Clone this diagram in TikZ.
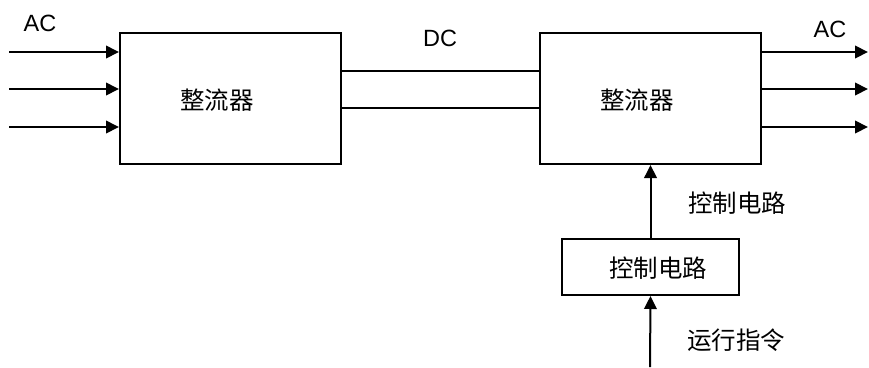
\documentclass[tikz,border=0pt]{standalone}
\usepackage{fontspec}
\setmainfont{Liberation Sans}
\newfontfamily\cjk{Noto Sans CJK SC}
\usetikzlibrary{arrows.meta}
\begin{document}
\begin{tikzpicture}[x=1pt,y=-1pt,line width=2pt,
  box/.style={draw,rectangle,inner sep=0pt},
  lab/.style={inner sep=0pt,font=\fontsize{23.5}{27}\selectfont},
  cn/.style={inner sep=0pt,font=\cjk\fontsize{24.5}{28}\selectfont},
  arr/.style={-{Triangle[length=13pt,width=12.5pt]}}]
\useasboundingbox (0,0) rectangle (869,367);
\fill[white] (0,0) rectangle (869,367);
% boxes
\node[box,minimum width=221pt,minimum height=131pt] (L) at (230.5,98.5) {};
\node[box,minimum width=221pt,minimum height=131pt] (R) at (650.5,98.5) {};
\node[box,minimum width=177pt,minimum height=56pt] (C) at (650.5,267) {};
% box texts
\node[cn] (Lt) at (217,100) {整流器};
\node[cn] (Rt) at (637,100) {整流器};
\node[cn] (Ct) at (658,268) {控制电路};
% inputs
\coordinate (i1) at (9,52);
\coordinate (i2) at (9,89);
\coordinate (i3) at (9,127);
\draw[arr] (i1) -- (i1 -| L.west);
\draw[arr] (i2) -- (i2 -| L.west);
\draw[arr] (i3) -- (i3 -| L.west);
% outputs
\coordinate (o1) at (868,52);
\coordinate (o2) at (868,89);
\coordinate (o3) at (868,127);
\draw[arr] (o1 -| R.east) -- (o1);
\draw[arr] (o2 -| R.east) -- (o2);
\draw[arr] (o3 -| R.east) -- (o3);
% DC link
\coordinate (d1) at (440,71);
\coordinate (d2) at (440,108);
\draw (d1 -| L.east) -- (d1 -| R.west);
\draw (d2 -| L.east) -- (d2 -| R.west);
% labels
\node[lab] (acl) at (40,23) {AC};
\node[lab] (acr) at (830,29) {AC};
\node[lab] (dc) at (440,38) {DC};
% control
\draw[arr] (C.north) -- (R.south);
\coordinate (cmd) at (650,367);
\draw[arr] (cmd) -- (C.south);
\node[cn] (ctl) at (737,203) {控制电路};
\node[cn] (run) at (736,340) {运行指令};
\end{tikzpicture}
\end{document}
